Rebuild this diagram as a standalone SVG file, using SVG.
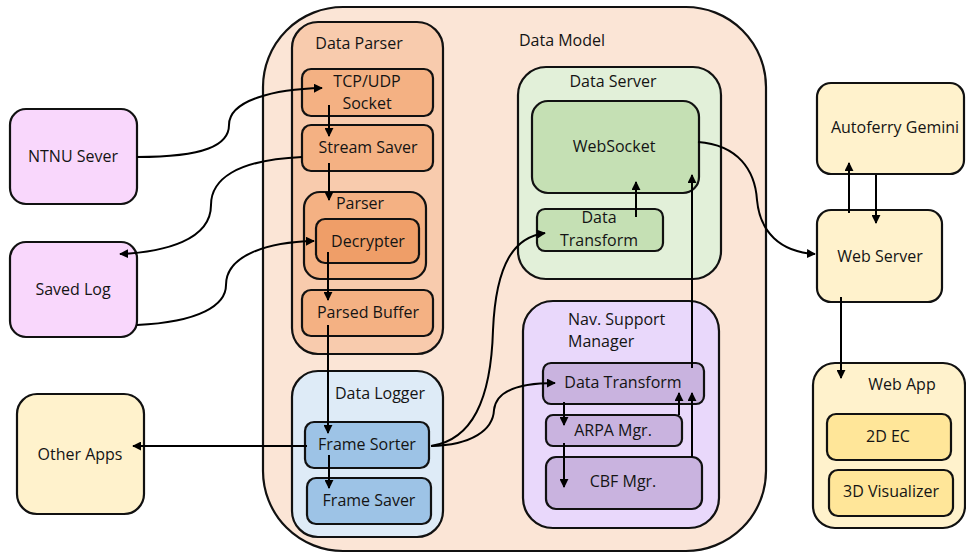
<svg xmlns="http://www.w3.org/2000/svg" width="966" height="554" viewBox="0 0 966 554">
<defs>
<marker id="ah" viewBox="0 0 10 10" refX="9" refY="5" markerWidth="4.5" markerHeight="4.5" orient="auto" markerUnits="strokeWidth">
<path d="M0,0 L10,5 L0,10 z" fill="#000"/>
</marker>
<style>
.b{stroke:#111;stroke-width:2.2}
.t{font-family:"Open Sans","Liberation Sans",sans-serif;font-size:16px;fill:#141414;text-anchor:middle}
.l{text-anchor:start}
.c{fill:none;stroke:#000;stroke-width:2;marker-end:url(#ah)}
.pk{fill:#F9D7FC}.yl{fill:#FFF2CC}.y2{fill:#FFE699}
.o0{fill:#FBE5D6}.o1{fill:#F8CBAD}.o2{fill:#F4B183}.o3{fill:#EF9E68}
.bl1{fill:#DEEBF7}.bl2{fill:#9DC3E6}
.g1{fill:#E2F0D9}.g2{fill:#C5E0B4}
.p1{fill:#E9D8FB}.p2{fill:#C9B3DF}
</style>
</defs>
<rect width="966" height="554" fill="#fff"/>

<g id="data-model"><rect class="b o0" x="263" y="7" width="503" height="544" rx="80"/><text class="t" x="562" y="46">Data Model</text></g>

<g id="data-parser"><rect class="b o1" x="292" y="22" width="151" height="332" rx="26"/><text class="t" x="359" y="49">Data Parser</text></g>
<g id="tcp-udp-socket"><rect class="b o2" x="302" y="69" width="131" height="47" rx="9"/><text class="t" x="367" y="87">TCP/UDP</text><text class="t" x="367" y="109">Socket</text></g>
<g id="stream-saver"><rect class="b o2" x="302" y="125" width="131" height="46" rx="9"/><text class="t" x="368" y="153">Stream Saver</text></g>
<g id="parser"><rect class="b o2" x="304" y="192" width="122" height="87" rx="16"/><text class="t" x="360" y="209">Parser</text></g>
<g id="decrypter"><rect class="b o3" x="316" y="219" width="103" height="44" rx="9"/><text class="t" x="368" y="247">Decrypter</text></g>
<g id="parsed-buffer"><rect class="b o2" x="302" y="290" width="131" height="46" rx="9"/><text class="t" x="368" y="318">Parsed Buffer</text></g>

<g id="data-logger"><rect class="b bl1" x="292" y="371" width="151" height="166" rx="26"/><text class="t" x="380" y="399">Data Logger</text></g>
<g id="frame-sorter"><rect class="b bl2" x="305" y="422" width="124" height="46" rx="9"/><text class="t" x="367" y="450">Frame Sorter</text></g>
<g id="frame-saver"><rect class="b bl2" x="307" y="478" width="124" height="46" rx="9"/><text class="t" x="369" y="506">Frame Saver</text></g>

<g id="data-server"><rect class="b g1" x="518" y="67" width="203" height="212" rx="28"/><text class="t" x="613" y="87">Data Server</text></g>
<g id="websocket"><rect class="b g2" x="532" y="101" width="167" height="92" rx="16"/><text class="t" x="614" y="152">WebSocket</text></g>
<g id="data-transform-green"><rect class="b g2" x="537" y="209" width="126" height="42" rx="8"/><text class="t" x="599" y="223">Data</text><text class="t" x="599" y="246">Transform</text></g>

<g id="nav-support-manager"><rect class="b p1" x="523" y="301" width="196" height="227" rx="30"/><text class="t l" x="568" y="325">Nav. Support</text><text class="t l" x="568" y="347">Manager</text></g>
<g id="data-transform-purple"><rect class="b p2" x="543" y="363" width="161" height="41" rx="8"/><text class="t" x="623" y="388">Data Transform</text></g>
<g id="arpa-mgr"><rect class="b p2" x="546" y="415" width="136" height="31" rx="7"/><text class="t" x="613" y="436">ARPA Mgr.</text></g>
<g id="cbf-mgr"><rect class="b p2" x="546" y="457" width="156" height="52" rx="10"/><text class="t" x="623" y="487">CBF Mgr.</text></g>

<g id="ntnu-sever"><rect class="b pk" x="10" y="109" width="127" height="95" rx="16"/><text class="t" x="73" y="162">NTNU Sever</text></g>
<g id="saved-log"><rect class="b pk" x="10" y="242" width="127" height="95" rx="16"/><text class="t" x="73" y="295">Saved Log</text></g>
<g id="other-apps"><rect class="b yl" x="17" y="394" width="127" height="120" rx="20"/><text class="t" x="80" y="460">Other Apps</text></g>

<g id="autoferry-gemini"><rect class="b yl" x="817" y="83" width="147" height="91" rx="14"/><text class="t" x="895" y="133">Autoferry Gemini</text></g>
<g id="web-server"><rect class="b yl" x="817" y="210" width="125" height="92" rx="14"/><text class="t" x="880" y="262">Web Server</text></g>
<g id="web-app"><rect class="b yl" x="813" y="363" width="152" height="165" rx="22"/><text class="t" x="902" y="390">Web App</text></g>
<g id="ec-2d"><rect class="b y2" x="827" y="414" width="124" height="46" rx="9"/><text class="t" x="888" y="442">2D EC</text></g>
<g id="visualizer-3d"><rect class="b y2" x="829" y="470" width="124" height="46" rx="9"/><text class="t" x="891" y="497">3D Visualizer</text></g>

<g id="connectors">
<path class="c" d="M137,157 C205,157 229,145 229,125 C229,100 275,89 322,88"/>
<path class="c" d="M302,157 C235,160 211,180 211,205 C211,240 165,252 120,254"/>
<path class="c" d="M137,325 C200,322 226,305 226,285 C226,255 268,242 314,241"/>
<path class="c" d="M329,105 L329,136"/>
<path class="c" d="M329,163 L329,200"/>
<path class="c" d="M328,252 L328,300"/>
<path class="c" d="M328,325 L328,433"/>
<path class="c" d="M329,455 L329,488"/>
<path class="c" d="M307,446 L133,446"/>
<path class="c" d="M431,446 C472,440 491,400 493,330 C496,262 515,237 545,233"/>
<path class="c" d="M431,446 C472,445 493,430 494,410 C496,390 520,383 555,383"/>
<path class="c" d="M636,217 L636,182"/>
<path class="c" d="M692,368 L692,175"/>
<path class="c" d="M698,142 C738,145 755,170 757,200 C760,232 780,252 815,254"/>
<path class="c" d="M849,213 L849,163"/>
<path class="c" d="M876,175 L876,223"/>
<path class="c" d="M841,297 L841,378"/>
<path class="c" d="M564,402 L564,425"/>
<path class="c" d="M564,443 L564,487"/>
<path class="c" d="M679,415 L679,393"/>
<path class="c" d="M692,457 L692,393"/>
</g>
</svg>
